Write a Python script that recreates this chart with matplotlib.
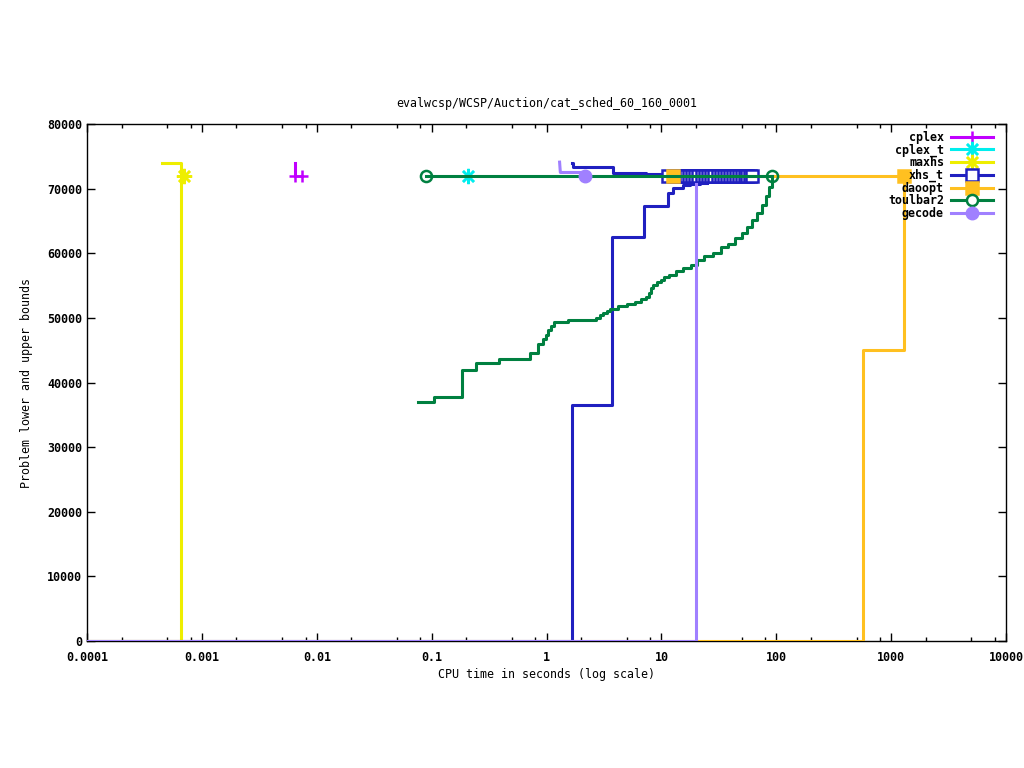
import matplotlib
matplotlib.use('Agg')
import matplotlib.pyplot as plt
import matplotlib.ticker as ticker
from matplotlib.lines import Line2D

# colours per solver (gnuplot style)
colors = {
    'cplex':    '#c000ff',
    'cplex_t':  '#00eeee',
    'maxhs':    '#eeee00',
    'xhs_t':    '#2020c0',
    'daoopt':   '#ffc020',
    'toulbar2': '#008040',
    'gecode':   '#a080ff',
}

# cplex
cplex_ub_t = [0.00647, 0.00647]
cplex_ub   = [74000, 72000]
cplex_pt_t = [0.00647, 0.00745]
cplex_pt   = [72000, 72000]

# cplex_t
cplex_t_pt_t = [0.207]
cplex_t_pt   = [72000]

# maxhs
maxhs_ub_t = [0.00045, 0.00066, 0.00066]
maxhs_ub   = [74000, 74000, 72000]
maxhs_lb_t = [0.0001, 0.00066, 0.00066]
maxhs_lb   = [0, 0, 72000]
maxhs_pt_t = [0.0007]
maxhs_pt   = [72000]

# xhs_t
xhs_lb_t = [0.0001, 1.68, 3.75, 7.06, 11.5, 12.7, 15.5, 17.7, 21.7, 25.0]
xhs_lb   = [0, 36500, 62500, 67300, 69400, 70100, 70500, 70700, 70900, 70900]
xhs_ub_t = [1.68, 1.70, 3.82, 7.35, 11.5]
xhs_ub   = [74000, 73400, 72400, 72200, 72200]
xhs_pt_t = [11.5, 12.8, 13.6, 14.5, 15.4, 16.4, 17.4, 18.5, 19.7, 21.0, 22.5,
            24.0, 25.5, 27.0, 29.0, 31.0, 33.0, 35.0, 37.0, 39.5, 42.0, 44.5,
            47.0, 50.0, 53.0, 56.0, 59.0, 61.0]

# daoopt
daoopt_lb_t = [0.0001, 573, 573, 1303, 1303]
daoopt_lb   = [0, 0, 45100, 45100, 72000]
daoopt_ub_t = [12.6, 1303]
daoopt_ub   = [72000, 72000]

# toulbar2
tb2_lb_t = [0.0758, 0.1054, 0.185, 0.245, 0.386, 0.718, 0.85, 0.93, 0.99, 1.03,
            1.1, 1.17, 1.54, 2.70, 2.93, 3.09, 3.36, 3.54, 4.23, 5.0, 5.9, 6.69,
            7.38, 7.73, 8.2, 8.53, 9.17, 9.93, 10.6, 11.7, 13.4, 15.3, 18.1,
            20.6, 23.6, 27.9, 33.3, 38.0, 43.6, 49.9, 55.2, 61.2, 67.6, 74.8,
            81.0, 86.6, 91.6, 91.9]
tb2_lb   = [37000, 37800, 41900, 43000, 43700, 44500, 46000, 46800, 47400, 48200,
            48700, 49300, 49600, 50000, 50400, 50700, 51100, 51300, 51800, 52100,
            52400, 52900, 53300, 53900, 54600, 55100, 55600, 55900, 56300, 56600,
            57200, 57700, 58200, 59000, 59500, 60100, 60900, 61500, 62300, 63100,
            64100, 65200, 66200, 67500, 68800, 70300, 71600, 72000]
tb2_ub_t = [0.0893, 91.9]
tb2_ub   = [72000, 72000]

# gecode
gecode_lb_t = [0.0001, 20.0, 20.0]
gecode_lb   = [0, 0, 70700]
gecode_ub_t = [1.30, 1.32, 2.16]
gecode_ub   = [74100, 72500, 72500]
gecode_pt_t = [2.16]
gecode_pt   = [72000]

xtick_vals   = [0.0001, 0.001, 0.01, 0.1, 1, 10, 100, 1000, 10000]
xtick_labels = ['0.0001', '0.001', '0.01', '0.1', '1', '10', '100', '1000', '10000']
ytick_vals   = [0, 10000, 20000, 30000, 40000, 50000, 60000, 70000, 80000]

plt.rcParams['font.family'] = ['DejaVu Sans Mono']
LW = 2.2
MS = 9
MEW = 1.8

fig = plt.figure(figsize=(10.24, 7.68), dpi=100)
ax = fig.add_axes([87/1024, 1 - 641/768, 919/1024, 517/768])
ax.set_xscale('log')

# cplex
c = colors['cplex']
ax.plot(cplex_ub_t, cplex_ub, color=c, lw=LW)
ax.plot(cplex_pt_t, cplex_pt, ls='none', marker='+', ms=MS, mew=MEW, color=c)
# cplex_t
c = colors['cplex_t']
ax.plot(cplex_t_pt_t, cplex_t_pt, ls='none', marker=(8, 2, 0), ms=MS + 2, mew=MEW, color=c)
# maxhs
c = colors['maxhs']
ax.plot(maxhs_ub_t, maxhs_ub, color=c, lw=LW)
ax.plot(maxhs_lb_t, maxhs_lb, color=c, lw=LW)
ax.plot(maxhs_pt_t, maxhs_pt, ls='none', marker=(8, 2, 0), ms=MS + 2, mew=MEW, color=c)
# xhs_t
c = colors['xhs_t']
ax.plot(xhs_lb_t, xhs_lb, color=c, lw=LW, drawstyle='steps-post')
ax.plot(xhs_ub_t, xhs_ub, color=c, lw=LW, drawstyle='steps-post')
ax.plot(xhs_pt_t, [72000] * len(xhs_pt_t), ls='none', marker='s', ms=MS, mew=MEW,
        color=c, mfc='white')
# daoopt
c = colors['daoopt']
ax.plot(daoopt_lb_t, daoopt_lb, color=c, lw=LW)
ax.plot(daoopt_ub_t, daoopt_ub, color=c, lw=LW, marker='s', ms=MS, mew=MEW)
# toulbar2
c = colors['toulbar2']
ax.plot(tb2_lb_t, tb2_lb, color=c, lw=LW, drawstyle='steps-post')
ax.plot(tb2_ub_t, tb2_ub, color=c, lw=LW, marker='o', ms=MS - 1, mew=MEW, mfc='none')
# gecode
c = colors['gecode']
ax.plot(gecode_lb_t, gecode_lb, color=c, lw=LW)
ax.plot(gecode_ub_t, gecode_ub, color=c, lw=LW)
ax.plot(gecode_pt_t, gecode_pt, ls='none', marker='o', ms=MS, color=c)

ax.set_xlim(0.0001, 10000)
ax.set_ylim(0, 80000)
ax.set_xticks(xtick_vals)
ax.set_xticklabels(xtick_labels)
ax.xaxis.set_minor_locator(ticker.LogLocator(base=10, subs=[2, 5, 8]))
ax.xaxis.set_minor_formatter(ticker.NullFormatter())
ax.set_yticks(ytick_vals)
ax.set_yticklabels([str(v) for v in ytick_vals])
ax.tick_params(which='both', direction='in', top=True, right=True, width=1,
               labelsize=8.4)
ax.tick_params(axis='x', which='major', pad=7)
ax.tick_params(which='major', length=6)
ax.tick_params(which='minor', length=3)
for lbl in ax.get_xticklabels() + ax.get_yticklabels():
    lbl.set_fontweight('bold')
for s in ax.spines.values():
    s.set_linewidth(1)
    s.set_zorder(1)

ax.set_xlabel('CPU time in seconds (log scale)', fontsize=8.4, labelpad=3)
ax.set_ylabel('Problem lower and upper bounds', fontsize=8.4, labelpad=10)
ax.set_title('evalwcsp/WCSP/Auction/cat_sched_60_160_0001', fontsize=8.4, pad=12)

# legend
handles = [
    Line2D([], [], color=colors['cplex'], lw=LW, marker='+', ms=MS, mew=MEW),
    Line2D([], [], color=colors['cplex_t'], lw=LW, marker=(8, 2, 0), ms=MS + 2, mew=MEW),
    Line2D([], [], color=colors['maxhs'], lw=LW, marker=(8, 2, 0), ms=MS + 2, mew=MEW),
    Line2D([], [], color=colors['xhs_t'], lw=LW, marker='s', ms=MS, mew=MEW, mfc='white'),
    Line2D([], [], color=colors['daoopt'], lw=LW, marker='s', ms=MS, mew=MEW),
    Line2D([], [], color=colors['toulbar2'], lw=LW, marker='o', ms=MS - 1, mew=MEW, mfc='white'),
    Line2D([], [], color=colors['gecode'], lw=LW, marker='o', ms=MS),
]
names = ['cplex', 'cplex_t', 'maxhs', 'xhs_t', 'daoopt', 'toulbar2', 'gecode']
leg = ax.legend(handles, names, loc='upper right',
                bbox_to_anchor=(993/1024, 1 - 131/768), bbox_transform=fig.transFigure,
                frameon=False, markerfirst=False, borderaxespad=0, borderpad=0,
                handlelength=3.6, handletextpad=0.6, labelspacing=-0.04,
                prop={'family': 'DejaVu Sans Mono', 'size': 8.4, 'weight': 'bold'})

fig.savefig('out.png', dpi=100)
